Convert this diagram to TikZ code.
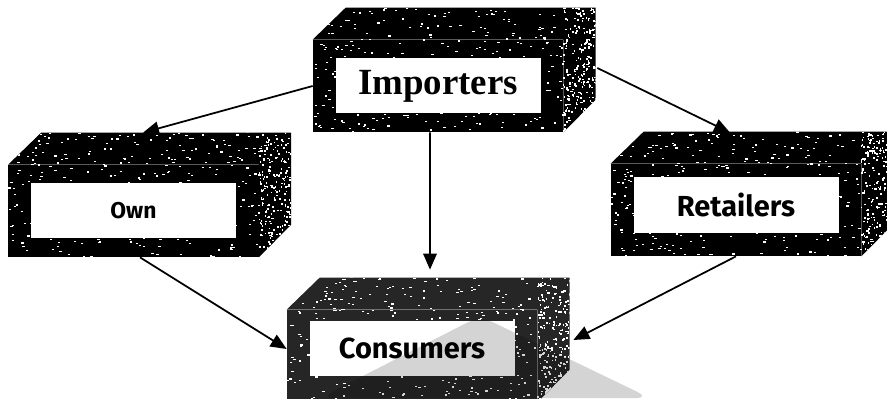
\documentclass[tikz,border=0pt]{standalone}
\usepackage{fontspec}
\newfontfamily\headserif{Liberation Serif}
\newfontfamily\tagsans{Fira Sans}
\usetikzlibrary{positioning, arrows.meta, calc}

\begin{document}
\begin{tikzpicture}[
        front/.style={fill=#1, inner sep=0pt, minimum width=5cm, minimum height=1.84cm},
        inset/.style={fill=white, inner sep=0pt, minimum width=4.1cm, minimum height=1.1cm},
        speck/.style={fill=white},
        arr/.style={-{Triangle[length=0.32cm, width=0.27cm]}, line width=1pt},
        headtxt/.style={font=\headserif\bfseries\fontsize{21}{24}\selectfont},
        tagtxt/.style={font=\tagsans\bfseries\fontsize{16.5}{19}\selectfont},
        smalltxt/.style={font=\tagsans\bfseries\fontsize{13}{15}\selectfont}
    ]
    \clip (0,0) rectangle (17.74,7.96);
    \pgfmathsetseed{42}
    % Crates: front face, top and side, speckled
    \foreach \n/\x/\y/\c/\f/\dy/\t in {imp/8.76/6.24/black/headtxt/0/Importers,
            own/2.67/3.74/black/smalltxt/0/Own,
            ret/14.72/3.76/black/tagtxt/0.1/Retailers,
            cons/8.24/0.84/black!85/tagtxt/0.16/Consumers} {
        \node[front=\c] (\n) at (\x,\y) {};
        \fill[\c] (\n.north west) -- ++(0.66,0.64) -- ++(5,0) -- ++(0,-1.84)
            -- (\n.south east) -- (\n.north east) -- cycle;
        \begin{scope}
            \clip (\n.south west) -- (\n.north west) -- ++(0.66,0.64) -- ++(5,0)
                -- ++(0,-1.84) -- (\n.south east) -- cycle;
            \foreach \k in {1,...,380} {
                \pgfmathsetmacro{\rx}{rnd*5.66}
                \pgfmathsetmacro{\ry}{rnd*2.48}
                \fill[speck] ($(\n.south west)+(\rx,\ry)$) rectangle ++(0.045,0.024);
            }
            % side face is lighter
            \foreach \k in {1,...,200} {
                \pgfmathsetmacro{\rx}{5+rnd*0.66}
                \pgfmathsetmacro{\ry}{rnd*2.48}
                \fill[speck] ($(\n.south west)+(\rx,\ry)$) rectangle ++(0.03,0.035);
            }
        \end{scope}
        \node[inset, \f] (\n-tag) at ($(\n)+(0,\dy)$) {\t};
    }
    % Flows
    \draw[arr] (imp.west) -- ($(own.north)+(0.19,0.64)$);
    \draw[arr] ($(imp.east)+(0.68,0.36)$) -- ($(ret.north)+(-0.12,0.62)$);
    \draw[arr] ($(imp.south)+(-0.16,0)$) -- ($(cons.north)+(0.36,0.8)$);
    \draw[arr] ($(own.south)+(0.13,0)$) -- ($(cons.west)+(0,0.14)$);
    \draw[arr] (ret.south) -- ($(cons.east)+(0.72,0.32)$);
    % Faint wedge
    \fill[black, fill opacity=0.17, rounded corners=8pt]
        (6.4,0) -- (9.6,1.64) -- (13.0,0) -- cycle;
\end{tikzpicture}
\end{document}
